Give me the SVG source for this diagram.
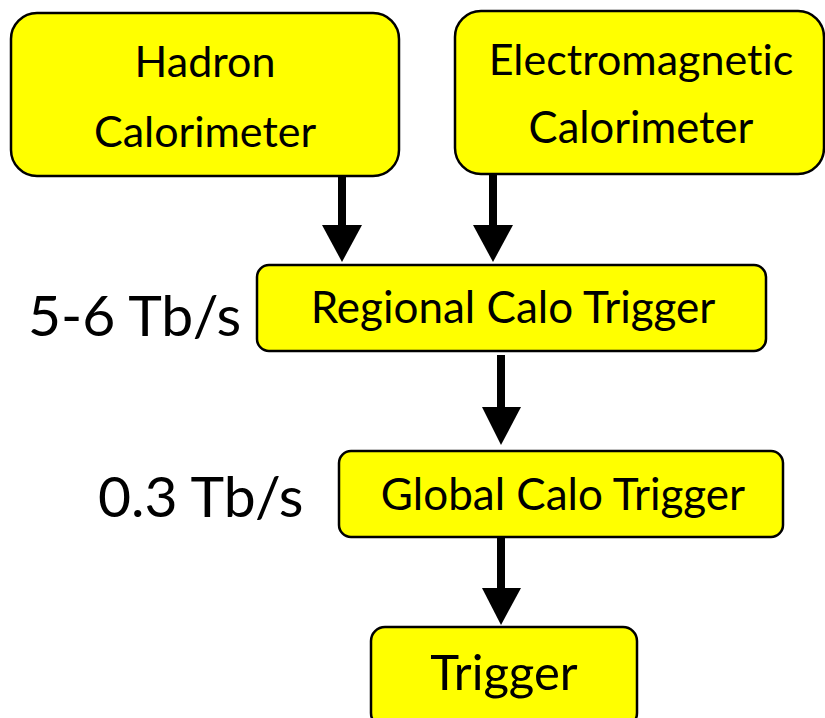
<svg xmlns="http://www.w3.org/2000/svg" width="825" height="718" viewBox="0 0 825 718">
<style>
.box{fill:#FFFF00;stroke:#000;stroke-width:2.5}
.t{font-family:Lato,"Open Sans",sans-serif;fill:#000;text-anchor:middle;font-variant-ligatures:none}
.lbl{font-family:Lato,"Open Sans",sans-serif;fill:#000;text-anchor:start}
.shaft{stroke:#000;stroke-width:8;fill:none}
.head{fill:#000}
</style>
<rect width="825" height="718" fill="#fff"/>
<g id="connectors">
<line class="shaft" x1="342" y1="176" x2="342" y2="228"/>
<polygon class="head" points="322,225 362,225 342,262"/>
<line class="shaft" x1="493" y1="174" x2="493" y2="228"/>
<polygon class="head" points="473,225 513,225 493,262"/>
<line class="shaft" x1="501" y1="355" x2="501" y2="410"/>
<polygon class="head" points="482,407 521,407 501,445"/>
<line class="shaft" x1="501" y1="537" x2="501" y2="591"/>
<polygon class="head" points="482,588 521,588 501,625"/>
</g>
<g id="hadron">
<rect class="box" x="11" y="13" width="388" height="163" rx="26"/>
<text class="t" x="205" y="77" font-size="43">Hadron</text>
<text class="t" x="205" y="147" font-size="43">Calorimeter</text>
</g>
<g id="em">
<rect class="box" x="455" y="11" width="369" height="163" rx="26"/>
<text class="t" x="641" y="75" font-size="43">Electromagnetic</text>
<text class="t" x="641" y="143" font-size="43.5">Calorimeter</text>
</g>
<g id="regional">
<rect class="box" x="257" y="265" width="509" height="86" rx="12"/>
<text class="t" x="513" y="323" font-size="44">Regional Calo Trigger</text>
</g>
<g id="rate1">
<text class="lbl" x="28" y="336" font-size="57">5-6 Tb/s</text>
</g>
<g id="global">
<rect class="box" x="339" y="451" width="444" height="86" rx="12"/>
<text class="t" x="563" y="510" font-size="44">Global Calo Trigger</text>
</g>
<g id="rate2">
<text class="lbl" x="98" y="517" font-size="57">0.3 Tb/s</text>
</g>
<g id="trigger">
<rect class="box" x="371" y="627" width="266" height="100" rx="14"/>
<text class="t" x="504" y="690" font-size="49">Trigger</text>
</g>
</svg>
